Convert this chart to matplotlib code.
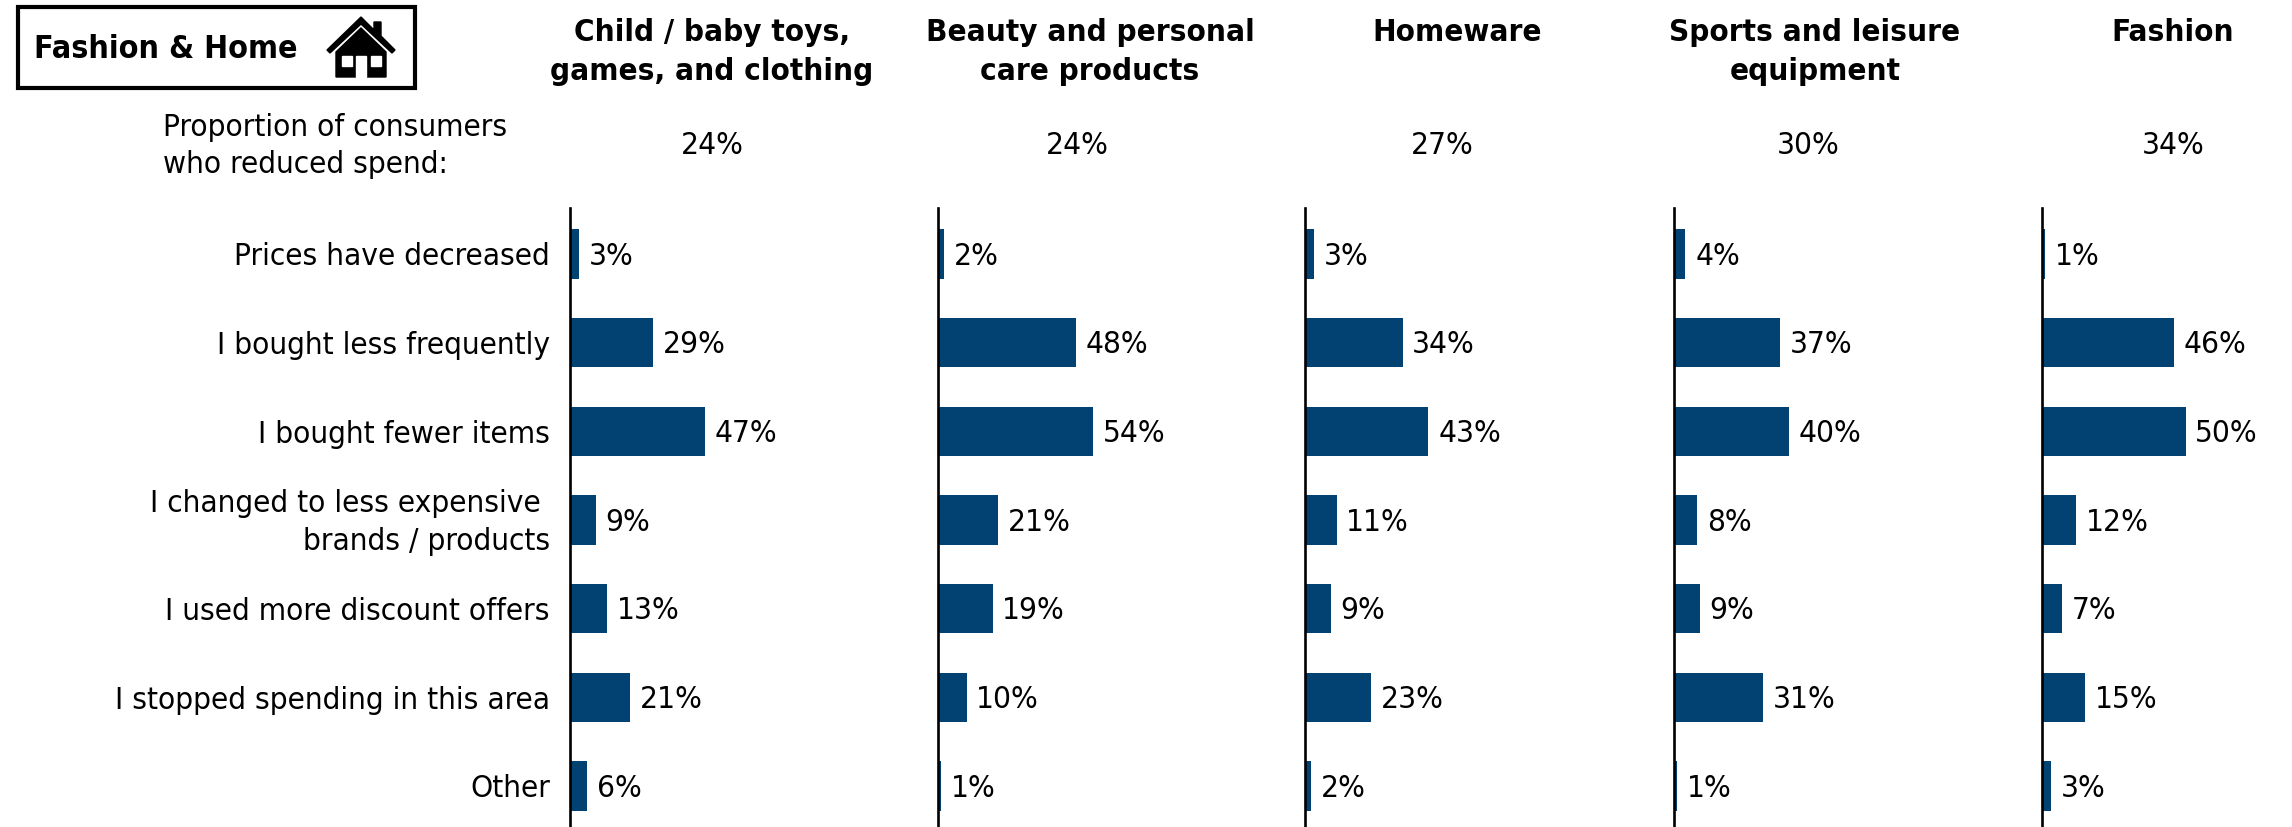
import matplotlib
matplotlib.use("Agg")
import matplotlib.pyplot as plt
from matplotlib.patches import Polygon, Rectangle

W, H = 2292, 827

categories = [
    "Prices have decreased",
    "I bought less frequently",
    "I bought fewer items",
    "I changed to less expensive \nbrands / products",
    "I used more discount offers",
    "I stopped spending in this area",
    "Other",
]
sectors = [
    "Child / baby toys,\ngames, and clothing",
    "Beauty and personal\ncare products",
    "Homeware",
    "Sports and leisure\nequipment",
    "Fashion",
]
reduced_spend = [24, 24, 27, 30, 34]
child_values = [3, 29, 47, 9, 13, 21, 6]
beauty_values = [2, 48, 54, 21, 19, 10, 1]
homeware_values = [3, 34, 43, 11, 9, 23, 2]
sports_values = [4, 37, 40, 8, 9, 31, 1]
fashion_values = [1, 46, 50, 12, 7, 15, 3]
panel_values = [child_values, beauty_values, homeware_values, sports_values, fashion_values]

BAR_COLOR = "#024273"
FS = 22.6
BOLD_FS = 22.5
PX_PER_PCT = 2.87
ROW = 88.67

plt.rcParams["font.family"] = "DejaVu Sans"
plt.rcParams["font.stretch"] = "condensed"

fig = plt.figure(figsize=(W / 100, H / 100), dpi=100)
# whole-figure overlay in pixel coordinates for the header items
page = fig.add_axes([0, 0, 1, 1])
page.set_xlim(0, W)
page.set_ylim(H, 0)
page.axis("off")

axis_x = [570, 938, 1305, 1674, 2042]
panel_w = 240
for i, (x0, values) in enumerate(zip(axis_x, panel_values)):
    ax = fig.add_axes([x0 / W, 0, panel_w / W, (H - 208) / H])
    ax.patch.set_alpha(0)
    ax.barh(range(len(values)), values, height=0.555, color=BAR_COLOR)
    ax.set_xlim(0, panel_w / PX_PER_PCT)
    ax.set_ylim((827 - 254) / ROW, (208 - 254) / ROW)
    for s in ("top", "right", "bottom"):
        ax.spines[s].set_visible(False)
    ax.spines["left"].set_linewidth(1.9)
    ax.spines["left"].set_color("black")
    ax.set_xticks([])
    ax.set_yticks([])
    if i == 0:
        for j, cat in enumerate(categories):
            ax.annotate(cat, (0, j), xytext=(-14.5, -2), textcoords="offset points",
                        ha="right", va="center", ma="right", fontsize=FS,
                        linespacing=1.38, annotation_clip=False)
    for j, v in enumerate(values):
        ax.annotate(f"{v}%", (v, j), xytext=(7, -1.5), textcoords="offset points",
                    ha="left", va="center", fontsize=FS, annotation_clip=False)

title_x = [712, 1090, 1457, 1815, 2173]
pct_x = [712, 1077, 1442, 1808, 2173]
for x, name in zip(title_x, sectors):
    page.text(x, 18, name, ha="center", va="top", fontsize=BOLD_FS, fontweight="bold", linespacing=1.42)
for x, pct in zip(pct_x, reduced_spend):
    page.text(x, 146, f"{pct}%", ha="center", va="center", fontsize=FS)

page.text(163, 146, "Proportion of consumers\nwho reduced spend:", ha="left", va="center",
          fontsize=FS, linespacing=1.38)

# boxed section title with a small house icon
page.add_patch(Rectangle((18, 7), 397, 81, fill=False, edgecolor="black", linewidth=3))
page.text(34, 50, "Fashion & Home", ha="left", va="center", fontsize=23, fontweight="bold")
page.add_patch(Polygon([(327, 50), (361, 17), (374, 30), (374, 22), (381, 22), (381, 36),
                        (395, 50), (392, 53), (361, 24), (330, 53)], closed=True, color="black"))
page.add_patch(Polygon([(336, 52), (361, 28), (386, 52), (386, 77), (336, 77)], closed=True, color="black"))
for rx, rw in [(342, 10), (371, 10)]:
    page.add_patch(Rectangle((rx, 56), rw, 10, color="white"))
page.add_patch(Rectangle((356, 56), 10, 21, color="white"))

fig.savefig("out.png", dpi=100)
